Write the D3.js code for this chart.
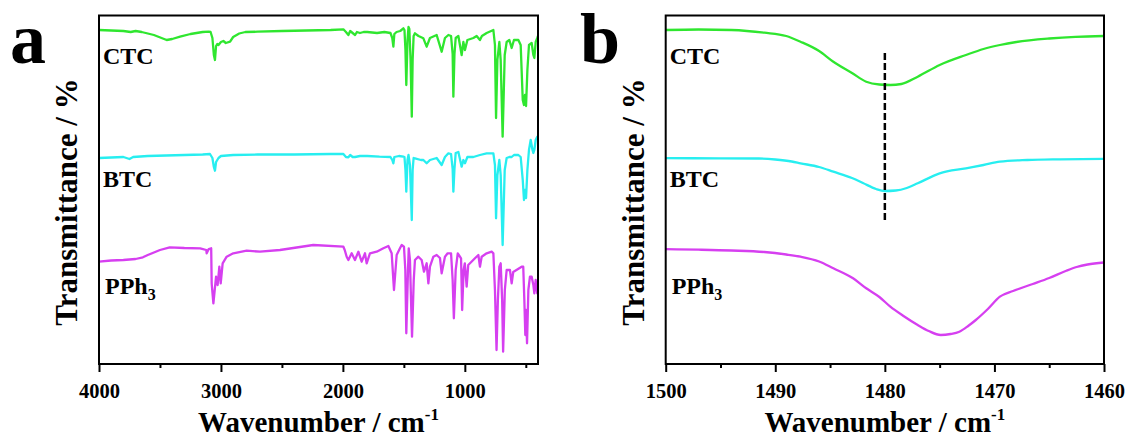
<!DOCTYPE html>
<html>
<head>
<meta charset="utf-8">
<script src="https://cdn.jsdelivr.net/npm/d3@7"></script>
<style>
  body { margin: 0; background: #fff; }
  svg { display: block; }
  text { font-family: "Times New Roman", "Liberation Serif", serif; font-weight: bold; fill: #000; }
</style>
</head>
<body>
<svg id="chart" width="1128" height="439"></svg>
<script>
// FTIR spectra, [wavenumber (cm-1), transmittance (arb. units, offset)]
const seriesNames = ["CTC", "BTC", "PPh"];
const seriesColors = ["#2fe62f", "#27eef0", "#d63ff0"];

const xDomainA = [4000, 400];
const majorA = [4000, 3000, 2000, 1000];
const minorA = [3500, 2500, 1500, 500];

const xDomainB = [1500, 1460];
const majorB = [1500, 1490, 1480, 1470, 1460];
const minorB = [1495, 1485, 1475, 1465];

const markerB = { wn: 1480, from: 141, to: 311 };

const ctcA = [
  [4000,334],[3900,333.5],[3800,333],[3740,332],[3700,333],[3650,332],[3550,329],[3445,324],
  [3400,325],[3335,327.3],[3250,330],[3150,332],[3100,332.3],[3085,332],[3070,326],[3058,309],
  [3049,304],[3040,318],[3030,320],[3020,319],[3000,322],[2980,323],[2960,321],[2925,322.3],
  [2900,327],[2850,330.5],[2800,332],[2700,332.3],[2500,333],[2300,333.5],[2100,334],[1996,334.7],
  [1975,332],[1955,329],[1940,333],[1920,331],[1900,329],[1885,332],[1860,331],[1830,332],
  [1800,332],[1720,331],[1660,332],[1610,331],[1595,326],[1586,317.3],[1578,330],[1560,332],
  [1530,333],[1504,335.7],[1495,334],[1487,314],[1480,279],[1470,324],[1462,337],[1455,335],
  [1445,304],[1435,247.3],[1428,304],[1420,328],[1409,330.7],[1380,328],[1340,325.7],[1313,317.3],
  [1286,326],[1231,329],[1190,312.3],[1163,326],[1135,329],[1113,328],[1100,310],[1094,267.3],
  [1085,310],[1075,326],[1053,328],[1026,309],[1012,322],[999,314],[979,324],[930,326],
  [903,328],[876,324],[860,328],[821,331],[766,334],[753,319],[744,246],[733,304],
  [717,322],[706,304],[690,227.3],[673,309],[657,322],[635,324],[616,316],[597,324],
  [561,324],[542,319],[525,264],[515,259],[507,269],[498,258],[487,294],[474,319],
  [452,321],[438,309],[430,306],[419,322],[406,326],[400,328]
];

const btcA = [
  [4000,206],[3900,206.5],[3800,207],[3750,205],[3720,207],[3600,208],[3450,208.5],[3300,209],
  [3150,209.5],[3090,210],[3070,206],[3058,197],[3049,193.3],[3040,202],[3020,206],[3000,208],
  [2900,209],[2700,209.5],[2400,209.5],[2100,210],[1996,210],[1975,207],[1955,206.7],[1940,209],
  [1920,207],[1900,207],[1860,208],[1800,208],[1700,207.3],[1610,207],[1595,204],[1586,200.7],
  [1578,207],[1540,208],[1504,207.3],[1495,207],[1487,194],[1480,172.3],[1470,204],[1462,209],
  [1450,199],[1435,144],[1428,194],[1420,206],[1409,205.7],[1360,204],[1340,204],[1313,200.7],
  [1286,204],[1231,206],[1190,199],[1163,207],[1135,210.7],[1113,210],[1100,195],[1094,172.3],
  [1085,195],[1075,211],[1053,212],[1026,197.3],[1012,204],[999,200.7],[979,207],[930,207],
  [876,209],[821,210.7],[766,210.7],[753,199],[744,145.7],[733,189],[717,204],[706,189],
  [690,119],[673,194],[657,206],[635,207],[616,207],[597,209],[561,209],[542,207],
  [525,184],[515,164],[507,174],[498,166],[487,194],[474,214],[460,224],[445,214],
  [438,211],[430,214],[419,224],[406,227.3],[400,226]
];

const pph3A = [
  [4000,102.3],[3900,103.5],[3800,104],[3750,104.5],[3700,105],[3640,106.7],[3600,109],[3500,114],
  [3420,116.7],[3300,116],[3170,115.7],[3120,114],[3117,110.7],[3100,115],[3080,115.7],[3076,80.7],
  [3062,60.7],[3040,87.3],[3027,79],[3013,97.3],[3002,80.7],[2986,100.7],[2953,107.3],[2899,110.7],
  [2789,113.3],[2680,112.3],[2516,114],[2243,119],[1996,117.3],[1985,114],[1969,107.3],[1955,104],
  [1928,110.7],[1901,104],[1873,112.3],[1846,102.3],[1819,110.7],[1805,100.7],[1778,110.7],[1723,112.3],
  [1668,115.7],[1627,118],[1600,110.7],[1581,74],[1559,109],[1532,115.7],[1518,119],[1499,117.3],
  [1488,94],[1480,30.7],[1466,94],[1460,115.7],[1450,104],[1433,27.3],[1419,84],[1409,104],
  [1381,107.3],[1354,104],[1335,92.3],[1313,100.7],[1299,80.7],[1286,97.3],[1258,107.3],[1231,109],
  [1204,106],[1190,90.7],[1163,107.3],[1141,110.7],[1113,110.7],[1100,84],[1090,45.7],[1075,94],
  [1058,110.7],[1031,105.7],[1022,54],[1010,94],[1000,100.7],[985,77.3],[972,99],[917,105.7],
  [889,109],[876,97.3],[862,107.3],[821,110.7],[780,112.3],[766,110.7],[753,74],[740,14],
  [729,64],[717,97.3],[706,100.7],[694,64],[686,12.3],[672,74],[657,94],[630,94],
  [616,80.7],[603,92],[534,97.3],[521,97.3],[512,64],[504,29],[498,54],[490,20.7],
  [479,74],[466,87.3],[452,87.3],[438,79],[430,70.7],[419,84],[406,70.7],[400,74]
];

const ctcB = [
  [1500,334],[1497,334.5],[1494,334],[1491,331.3],[1489,328],[1487.7,322.3],[1486,313],[1484.7,302.3],
  [1483,291],[1481.7,282.3],[1480.5,279.5],[1479.5,279],[1478.5,280],[1477,287.3],[1475,299],[1472.6,309],
  [1471,315],[1469.5,319],[1468,322],[1465,325.5],[1462.6,327.2],[1460,328]
];

const btcB = [
  [1500,205.8],[1495,205.7],[1491.5,205.5],[1490,204.5],[1488.5,202.5],[1487.7,200.7],[1486,197],[1484.7,192.3],
  [1483,186],[1482,181],[1480.8,175],[1480,173],[1479,173.5],[1478,176],[1477,180.7],[1475,190.7],
  [1472.6,195.7],[1471,199],[1469.5,202.3],[1467,204],[1464,204.7],[1460,205.1]
];

const pph3B = [
  [1500,114.8],[1497,114.3],[1494,113.5],[1491,112],[1489,109.5],[1487.7,107.3],[1486,102.5],[1484.7,95.7],
  [1482.9,85.7],[1481.7,75.7],[1480.5,67],[1479.5,57.3],[1478.3,48],[1477,39],[1476,33],[1474.9,29],
  [1474,30],[1473.2,32.3],[1472.4,38],[1471.7,44],[1470.6,55],[1469.5,67.3],[1468.3,73],[1466.5,80],
  [1465,86],[1463.5,93],[1462.5,97],[1461.5,99.5],[1460,101.5]
];

const svg = d3.select("#chart");
const plotTop = 15.5, plotBottom = 364;
const y = d3.scaleLinear().domain([0, 348.5]).range([plotBottom, plotTop]);

function drawPanel(p) {
  const x = d3.scaleLinear().domain(p.domain).range([p.left, p.right]);
  const g = svg.append("g");

  const line = d3.line()
    .x(d => x(d[0]))
    .y(d => y(d[1]))
    .curve(p.curve);

  p.series.forEach((s, i) => {
    g.append("path")
      .datum(s)
      .attr("d", line)
      .attr("fill", "none")
      .attr("stroke", seriesColors[i])
      .attr("stroke-width", 2.3)
      .attr("stroke-linejoin", "round");
  });

  // frame
  g.append("rect")
    .attr("x", p.left).attr("y", plotTop)
    .attr("width", p.right - p.left).attr("height", plotBottom - plotTop)
    .attr("fill", "none").attr("stroke", "#000").attr("stroke-width", 2);

  // major ticks
  const ax = g.append("g")
    .attr("transform", `translate(0,${plotBottom})`)
    .call(d3.axisBottom(x).tickValues(p.major).tickFormat(d3.format("d"))
      .tickSize(8).tickPadding(11).tickSizeOuter(0));
  ax.select(".domain").remove();
  ax.selectAll("line").attr("stroke-width", 2);
  ax.selectAll("text").style("font-size", "20.5px")
    .style("font-family", "'Times New Roman', 'Liberation Serif', serif")
    .style("font-weight", "bold");

  // minor ticks
  const mx = g.append("g")
    .attr("transform", `translate(0,${plotBottom})`)
    .call(d3.axisBottom(x).tickValues(p.minor).tickFormat("").tickSize(4).tickSizeOuter(0));
  mx.select(".domain").remove();
  mx.selectAll("line").attr("stroke-width", 2);

  // axis titles
  const xt = g.append("text")
    .attr("x", (p.left + p.right) / 2).attr("y", 432)
    .attr("text-anchor", "middle")
    .style("font-size", "29px");
  xt.append("tspan").text("Wavenumber / cm");
  xt.append("tspan").text("-1").style("font-size", "17px").attr("dy", -12);

  g.append("text")
    .attr("transform", `translate(${p.left - 22},202) rotate(-90)`)
    .attr("text-anchor", "middle")
    .style("font-size", "31px")
    .text("Transmittance / %");

  // panel letter
  g.append("text")
    .attr("x", p.letterX).attr("y", 63)
    .style("font-size", "72px")
    .text(p.letter);

  // series labels
  const labelY = [64, 187, 294];
  seriesNames.forEach((name, i) => {
    const t = g.append("text")
      .attr("x", p.left + p.labelDx[i]).attr("y", labelY[i])
      .style("font-size", "24px");
    t.append("tspan").text(name);
    if (i === 2) t.append("tspan").text("3").style("font-size", "16px").attr("dy", 6);
  });

  return x;
}

drawPanel({
  left: 99, right: 538, domain: xDomainA, major: majorA, minor: minorA,
  series: [ctcA, btcA, pph3A], curve: d3.curveLinear,
  letter: "a", letterX: 10, labelDx: [4, 4, 6]
});

const xB = drawPanel({
  left: 665.7, right: 1104, domain: xDomainB, major: majorB, minor: minorB,
  series: [ctcB, btcB, pph3B], curve: d3.curveMonotoneX,
  letter: "b", letterX: 580, labelDx: [4, 4, 6]
});

// dashed marker at 1480 cm-1
svg.append("line")
  .attr("x1", xB(markerB.wn)).attr("x2", xB(markerB.wn))
  .attr("y1", y(markerB.to)).attr("y2", y(markerB.from))
  .attr("stroke", "#000").attr("stroke-width", 2.5)
  .attr("stroke-dasharray", "7,3");
</script>
</body>
</html>
